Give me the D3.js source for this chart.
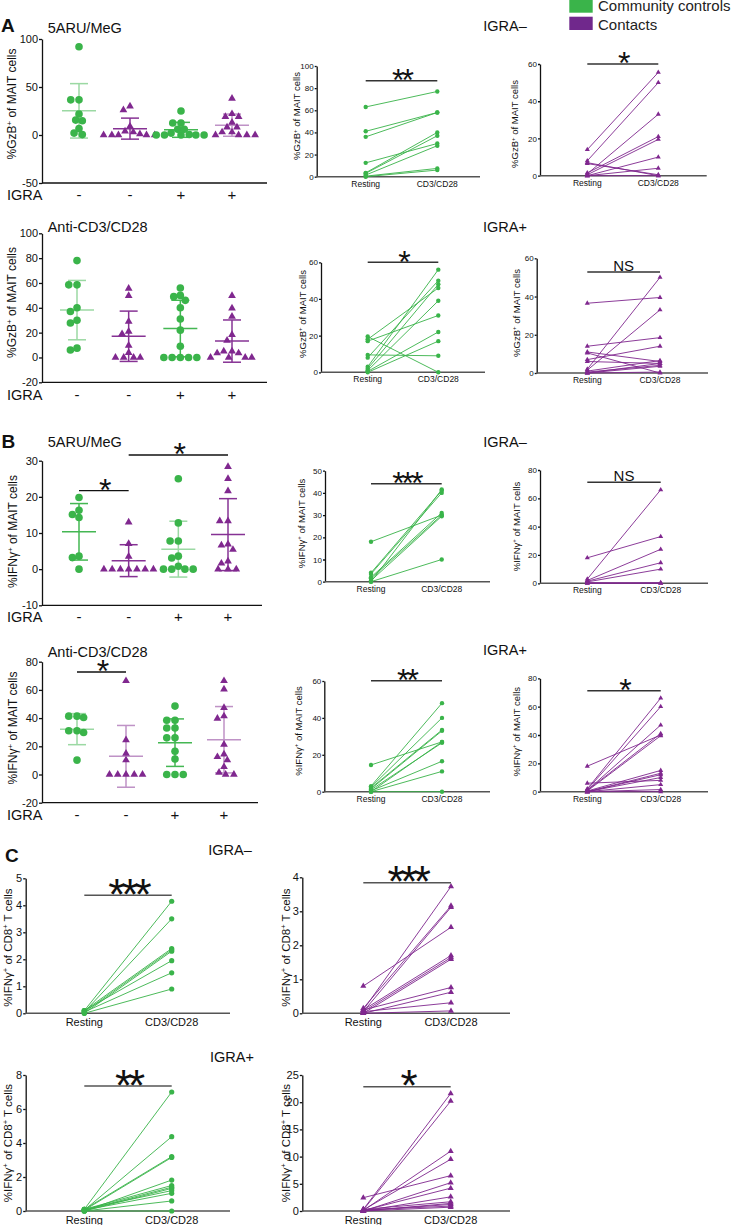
<!DOCTYPE html>
<html><head><meta charset="utf-8">
<script src="https://cdn.jsdelivr.net/npm/d3@7"></script>
<style>body{margin:0;background:#fff} svg{display:block}</style>
</head><body><svg id="c" width="737" height="1225"></svg>
<script>
const FONT = '"Liberation Sans", Arial, Helvetica, sans-serif';
const GREEN = "#3ab44a", PURPLE = "#80288f";

// ---------- data ----------
const igraLabels = ["-", "-", "+", "+"];
const groupSeries = ["controls", "contacts", "controls", "contacts"];
const pairCategories = ["Resting", "CD3/CD28"];
const legendLabels = ["Community controls", "Contacts"];

// scatter panels (A/B left column): 4 groups each
const gzbMeg = [[92, 36.6, 36.6, 21.8, 15.5, 14.8, 6.7, 2, 0.4],
                [30, 26, 9, 4, 3, 1, 0, 0, 0, 0, 0],
                [25, 12.5, 12.5, 6, 6, 2, 0.5, 0, 0, 0, 0, 0],
                [38, 22, 19, 19, 13, 8, 8, 3, 3, 0, 0, 0, 0]];
const gzbCd3 = [[78, 58.5, 58.5, 40, 37, 30, 27.7, 7.5, 6],
                [55.6, 49.7, 29, 21, 19, 9.7, 3.8, 0, 0, 0, 0],
                [56, 50, 49, 46, 40, 31, 22, 9, 0, 0, 0, 0, 0],
                [49.7, 39.7, 33, 18.3, 13.7, 5, 5, 3.5, 3.5, 0, 0, 0, 0]];
const ifnMeg = [[19.8, 16.3, 15.1, 14.3, 3.6, 3.2, 0],
                [13, 7, 3.5, 0, 0, 0, 0, 0, 0, 0],
                [25, 12.8, 7.8, 7.8, 3.6, 3.1, 0.8, 0, 0, 0, 0],
                [28.3, 25, 21.6, 13.3, 13.3, 6.9, 6.6, 5.4, 2.2, 1.6, 0, 0, 0]];
const ifnCd3 = [[41.4, 40.4, 41.4, 31, 29.8, 31, 10.2],
                [66.4, 24.4, 14.9, 10.2, 0, 0, 0, 0, 0],
                [48.5, 38.5, 38.5, 33, 33, 26, 26, 16.5, 11, 0, 0, 0],
                [66.4, 60.5, 47.3, 41.4, 39.7, 21.3, 14.4, 12.5, 10.2, 5.4, 1.4, 0, 0]];

// paired panels: [resting, CD3/CD28]
const gzbNegControls = [[63, 77], [41, 58], [36, 58], [12.5, 30], [3.5, 40], [3, 37], [1.5, 28], [0.5, 7.5], [0, 6]];
const gzbNegContacts = [[14, 55.5], [8, 50], [7, 0], [6.5, 0.5], [1, 33], [1.5, 21], [0.5, 19.5], [0, 10], [0, 4], [0, 0]];
const gzbPosControls = [[19.5, 0], [18, 46], [17, 31], [9.5, 9], [8, 50], [3, 56], [2, 48], [1, 39], [0.5, 22], [0, 17]];
const gzbPosContacts = [[36.5, 39.5], [14, 18.5], [11, 6], [10.5, 0], [7, 14], [6, 5], [2, 50], [1.5, 33], [1, 6.5], [0.5, 4], [0, 3.5], [0, 5], [0, 0.5]];
const ifnNegControls = [[18, 30], [4, 41], [3.5, 40], [2, 31], [1.5, 30], [0.5, 29.5], [0, 10], [0, 41.5]];
const ifnNegContacts = [[18, 33], [3, 66], [2, 24], [1.5, 14.5], [1, 10], [0.5, 0], [0, 0.5], [0, 0]];
const ifnPosControls = [[14.5, 27], [3, 48], [2.5, 40], [2, 33.5], [1.5, 33], [1, 26.5], [0.5, 16.5], [0, 11], [0, 0], [0, 27]];
const ifnPosContacts = [[18, 40], [6, 8], [2, 66], [1.5, 60], [1, 47], [1, 41], [0.5, 39.5], [0.5, 15], [0, 13], [0, 12], [0, 10], [0, 5], [0, 1.5], [0, 0]];
const cd8NegControls = [[0.1, 4.15], [0.05, 3.5], [0.1, 2.4], [0.05, 2.35], [0, 2.3], [0.1, 1.95], [0.05, 1.5], [0, 0.9]];
const cd8NegContacts = [[0.8, 2.53], [0.1, 3.73], [0.15, 3.16], [0.05, 3.12], [0.1, 1.7], [0.05, 1.64], [0, 1.59], [0.1, 0.76], [0, 0.62], [0.05, 0.31], [0, 0.07]];
const cd8PosControls = [[0.1, 7], [0.05, 4.37], [0.1, 3.2], [0.05, 3.15], [0, 1.82], [0.1, 1.5], [0.05, 1.4], [0, 1.33], [0.1, 1.2], [0.05, 1.04], [0, 0.59], [0, 0]];
const cd8PosContacts = [[0.3, 21.6], [0.2, 20.2], [0.1, 11], [0.2, 9.5], [2.45, 6.5], [0, 5.2], [0.1, 4.2], [0, 2.6], [0.3, 1.7], [0, 1.4], [0.1, 1.2], [0.2, 0.9], [0, 0.7]];

const GZB = [["%GzB", 0], ["+", 1], [" of MAIT cells", 0]];
const IFN_MAIT = [["%IFNγ", 0], ["+", 1], [" of MAIT cells", 0]];
const IFN_CD8 = [["%IFNγ", 0], ["+", 1], [" of CD8", 0], ["+", 1], [" T cells", 0]];

// ---------- drawing ----------
const svg = d3.select("#c").attr("font-family", FONT);

function rotLabel(x, y, parts, fs) {
  const t = svg.append("text")
    .attr("transform", `translate(${x + 0.35 * fs},${y}) rotate(-90)`)
    .attr("text-anchor", "middle").attr("font-size", fs).attr("fill", "#111");
  let shifted = false;
  parts.forEach(([s, sup]) => {
    const ts = t.append("tspan").text(s);
    if (sup) { ts.attr("font-size", fs * 0.65).attr("dy", -fs * 0.38); shifted = true; }
    else if (shifted) { ts.attr("dy", fs * 0.38); shifted = false; }
  });
}
function txt(x, y, s, fs, opts = {}) {
  return svg.append("text").attr("x", x).attr("y", y).text(s)
    .attr("font-size", fs).attr("fill", "#111")
    .attr("text-anchor", opts.anchor || "start")
    .attr("font-weight", opts.bold ? "bold" : null);
}
// significance label above a bracket bar
function star(x, barY, s, big) {
  if (s === "NS") { txt(x, barY - 1.2, s, 15, { anchor: "middle" }); return; }
  const fs = big ? 44 : 32;
  txt(x, barY + (big ? 14.5 : 10.4), s, fs, { anchor: "middle" })
    .attr("letter-spacing", big ? -4 : -3);
}
function swarm(vals, y, cx, d) {
  const pts = vals.map(v => ({ v, py: y(v) })).sort((a, b) => a.py - b.py);
  const placed = [];
  const step = d / 4;
  pts.forEach(p => {
    for (let k = 0; k < 200; k++) {
      const off = (k % 2 === 0 ? 1 : -1) * Math.ceil(k / 2) * step;
      const px = cx + off;
      if (placed.every(q => (q.px - px) ** 2 + (q.py - p.py) ** 2 >= d * d)) { p.px = px; break; }
    }
    placed.push(p);
  });
  return pts;
}
function styleAxis(a, fs) {
  a.attr("font-family", FONT).attr("font-size", fs);
  a.selectAll("path,line").attr("stroke", "#111").attr("stroke-width", 1.3);
  a.selectAll("text").attr("fill", "#111");
}

function drawScatter(p) {
  const y = d3.scaleLinear().domain(p.domain).range([p.yBot, p.yTop]);
  const x = d3.scalePoint().domain(d3.range(4)).range(p.gx);
  svg.append("g").attr("transform", `translate(${p.axisX},0)`)
    .call(d3.axisLeft(y).tickValues(p.ticks).tickSize(3).tickPadding(1).tickSizeOuter(0).tickFormat(d => String(d)))
    .call(a => styleAxis(a, 11));
  svg.append("line").attr("x1", p.axisX).attr("x2", p.xEnd).attr("y1", p.yBot).attr("y2", p.yBot)
    .attr("stroke", "#111").attr("stroke-width", 1.3);
  txt(p.axisX + 5.7, p.titleY, p.title, 14.5);
  rotLabel(p.ylx, p.yly, p.ylabel, 12);
  if (p.letter) txt(p.letterX, p.letterY, p.letter, 19, { bold: true });
  p.data.forEach((vals, i) => {
    const col = groupSeries[i] === "controls" ? GREEN : PURPLE;
    const pts = swarm(vals, y, x(i), 6.6);
    const g = svg.append("g");
    if (groupSeries[i] === "controls") {
      g.selectAll("circle").data(pts).join("circle").attr("cx", d => d.px).attr("cy", d => d.py).attr("r", 3.8).attr("fill", col);
    } else {
      g.selectAll("path").data(pts).join("path").attr("d", d3.symbol(d3.symbolTriangle, 26)())
        .attr("transform", d => `translate(${d.px},${d.py})`).attr("fill", col);
    }
    const m = d3.mean(vals), sd = d3.deviation(vals);
    const eb = svg.append("g").attr("stroke", col).attr("stroke-width", 1.5).attr("opacity", p.light[i] ? 0.5 : 0.95);
    const cx = x(i);
    eb.append("line").attr("x1", cx).attr("x2", cx).attr("y1", y(m - sd)).attr("y2", y(m + sd));
    eb.append("line").attr("x1", cx - 9).attr("x2", cx + 9).attr("y1", y(m - sd)).attr("y2", y(m - sd));
    eb.append("line").attr("x1", cx - 9).attr("x2", cx + 9).attr("y1", y(m + sd)).attr("y2", y(m + sd));
    eb.append("line").attr("x1", cx - 17).attr("x2", cx + 17).attr("y1", y(m)).attr("y2", y(m));
    txt(cx, p.igraY, igraLabels[i], 15, { anchor: "middle" });
  });
  txt(7, p.igraY, "IGRA", 14.5);
  (p.sig || []).forEach(s => {
    svg.append("line").attr("x1", x(s.a)).attr("x2", x(s.b)).attr("y1", s.y).attr("y2", s.y)
      .attr("stroke", "#111").attr("stroke-width", 1.3);
    star((x(s.a) + x(s.b)) / 2, s.y, "*", false);
  });
}

function drawPaired(p) {
  const small = !p.big;
  const y = d3.scaleLinear().domain([0, p.max]).range([p.y0, p.yMax]);
  const x = d3.scalePoint().domain(pairCategories).range([p.xR, p.xC]);
  const col = p.series === "controls" ? GREEN : PURPLE;
  svg.append("g").attr("transform", `translate(${p.axisX},0)`)
    .call(d3.axisLeft(y).tickValues(p.ticks).tickSize(small ? 2 : 2.5).tickPadding(1).tickSizeOuter(0).tickFormat(d => String(d)))
    .call(a => styleAxis(a, small ? 8 : 11));
  svg.append("line").attr("x1", p.axisX).attr("x2", p.xEnd).attr("y1", p.y0).attr("y2", p.y0)
    .attr("stroke", "#555").attr("stroke-width", 1.5);
  pairCategories.forEach(c => txt(x(c), p.y0 + (small ? 9.8 : 12.8), c, small ? 8.5 : 11, { anchor: "middle" }));
  const g = svg.append("g");
  g.selectAll("line").data(p.data).join("line")
    .attr("x1", x("Resting")).attr("x2", x("CD3/CD28"))
    .attr("y1", d => y(d[0])).attr("y2", d => y(d[1]))
    .attr("stroke", col).attr("stroke-width", 1).attr("opacity", 0.9);
  const ends = [];
  p.data.forEach(d => { ends.push([x("Resting"), y(d[0])]); ends.push([x("CD3/CD28"), y(d[1])]); });
  if (p.series === "controls") {
    g.selectAll("circle").data(ends).join("circle").attr("cx", d => d[0]).attr("cy", d => d[1])
      .attr("r", small ? 2.2 : 2.6).attr("fill", col);
  } else {
    g.selectAll("path").data(ends).join("path").attr("d", d3.symbol(d3.symbolTriangle, small ? 11 : 16)())
      .attr("transform", d => `translate(${d[0]},${d[1]})`).attr("fill", col);
  }
  svg.append("line").attr("x1", p.xR).attr("x2", p.xC).attr("y1", p.barY).attr("y2", p.barY)
    .attr("stroke", small ? "#333" : "#555").attr("stroke-width", 1.5);
  star((p.xR + p.xC) / 2, p.barY, p.sig, !small);
  rotLabel(p.ylx, p.yly, p.ylabel, small ? 9.5 : 11.5);
}

// ---------- layout ----------
drawScatter({ data: gzbMeg, title: "5ARU/MeG", letter: "A", letterX: 1, letterY: 32, titleY: 33,
  axisX: 42, yTop: 39, yBot: 183, domain: [-50, 100], ticks: [-50, 0, 50, 100], gx: [79, 232], xEnd: 267,
  igraY: 200, ylx: 12, yly: 104, ylabel: GZB, light: [1, 0, 0, 1] });
drawScatter({ data: gzbCd3, title: "Anti-CD3/CD28", titleY: 232,
  axisX: 42, yTop: 233.3, yBot: 382.3, domain: [-20, 100], ticks: [-20, 0, 20, 40, 60, 80, 100], gx: [77, 232], xEnd: 267,
  igraY: 399.5, ylx: 12, yly: 302.5, ylabel: GZB, light: [1, 0, 0, 0] });
drawScatter({ data: ifnMeg, title: "5ARU/MeG", letter: "B", letterX: 1.5, letterY: 448, titleY: 447,
  axisX: 42, yTop: 460.7, yBot: 605.3, domain: [-10, 30], ticks: [-10, 0, 10, 20, 30], gx: [79, 228], xEnd: 262,
  igraY: 622, ylx: 13, yly: 531.5, ylabel: IFN_MAIT, light: [0, 0, 1, 0],
  sig: [{ a: 0, b: 1, y: 490.7 }, { a: 1, b: 3, y: 455 }] });
drawScatter({ data: ifnCd3, title: "Anti-CD3/CD28", titleY: 656.7,
  axisX: 42, yTop: 661.7, yBot: 802.7, domain: [-20, 80], ticks: [-20, 0, 20, 40, 60, 80], gx: [77, 224], xEnd: 258,
  igraY: 820, ylx: 13, yly: 728, ylabel: IFN_MAIT, light: [1, 1, 0, 1],
  sig: [{ a: 0, b: 1, y: 672 }] });

const pairedPanels = [
  { data: gzbNegControls, series: "controls", axisX: 316.7, y0: 176.7, yMax: 66, max: 100, ticks: [0, 20, 40, 60, 80, 100], xR: 365.7, xC: 437.3, xEnd: 480, barY: 80.7, sig: "**", ylx: 297, yly: 116, ylabel: GZB },
  { data: gzbNegContacts, series: "contacts", axisX: 540, y0: 175.7, yMax: 64, max: 60, ticks: [0, 20, 40, 60], xR: 587.3, xC: 658.3, xEnd: 706.7, barY: 64, sig: "*", ylx: 515, yly: 124, ylabel: GZB },
  { data: gzbPosControls, series: "controls", axisX: 321, y0: 372.3, yMax: 262.3, max: 60, ticks: [0, 20, 40, 60], xR: 367.7, xC: 438.3, xEnd: 485, barY: 262.3, sig: "*", ylx: 302.3, yly: 314, ylabel: GZB },
  { data: gzbPosContacts, series: "contacts", axisX: 536.7, y0: 373, yMax: 258.3, max: 60, ticks: [0, 20, 40, 60], xR: 587.3, xC: 660, xEnd: 708, barY: 272, sig: "NS", ylx: 516.7, yly: 313, ylabel: GZB },
  { data: ifnNegControls, series: "controls", axisX: 325, y0: 581.7, yMax: 470.7, max: 50, ticks: [0, 10, 20, 30, 40, 50], xR: 371, xC: 441.7, xEnd: 490, barY: 483.7, sig: "***", ylx: 301.7, yly: 523.5, ylabel: IFN_MAIT },
  { data: ifnNegContacts, series: "contacts", axisX: 540, y0: 583.3, yMax: 470, max: 80, ticks: [0, 20, 40, 60, 80], xR: 587.3, xC: 660.7, xEnd: 708, barY: 482.3, sig: "NS", ylx: 516.7, yly: 526.5, ylabel: IFN_MAIT },
  { data: ifnPosControls, series: "controls", axisX: 324.3, y0: 791.7, yMax: 681, max: 60, ticks: [0, 20, 40, 60], xR: 371, xC: 442, xEnd: 490, barY: 680.7, sig: "**", ylx: 298.3, yly: 731, ylabel: IFN_MAIT },
  { data: ifnPosContacts, series: "contacts", axisX: 540, y0: 791.7, yMax: 678.3, max: 80, ticks: [0, 20, 40, 60, 80], xR: 587.3, xC: 660.7, xEnd: 708, barY: 690.7, sig: "*", ylx: 516.7, yly: 731.7, ylabel: IFN_MAIT },
  { data: cd8NegControls, series: "controls", big: true, axisX: 25.7, y0: 1013.3, yMax: 878.3, max: 5, ticks: [0, 1, 2, 3, 4, 5], xR: 84.3, xC: 171.7, xEnd: 230, barY: 895.3, sig: "***", ylx: 8.3, yly: 947.5, ylabel: IFN_CD8 },
  { data: cd8NegContacts, series: "contacts", big: true, axisX: 302.3, y0: 1013.3, yMax: 877.3, max: 4, ticks: [0, 1, 2, 3, 4], xR: 363.3, xC: 451, xEnd: 510, barY: 882.7, sig: "***", ylx: 286, yly: 947.5, ylabel: IFN_CD8 },
  { data: cd8PosControls, series: "controls", big: true, axisX: 25.7, y0: 1211, yMax: 1075, max: 8, ticks: [0, 2, 4, 6, 8], xR: 84.3, xC: 171.7, xEnd: 230, barY: 1086, sig: "**", ylx: 8.3, yly: 1143, ylabel: IFN_CD8 },
  { data: cd8PosContacts, series: "contacts", big: true, axisX: 302.3, y0: 1211, yMax: 1075, max: 25, ticks: [0, 5, 10, 15, 20, 25], xR: 363.3, xC: 450.7, xEnd: 510, barY: 1086.7, sig: "*", ylx: 286, yly: 1143, ylabel: IFN_CD8 }
];
pairedPanels.forEach(drawPaired);

// row titles
txt(505, 31, "IGRA–", 14.5, { anchor: "middle" });
txt(505, 231.7, "IGRA+", 14.5, { anchor: "middle" });
txt(505, 446.7, "IGRA–", 14.5, { anchor: "middle" });
txt(505, 655, "IGRA+", 14.5, { anchor: "middle" });
txt(230, 855, "IGRA–", 14.5, { anchor: "middle" });
txt(232, 1061.7, "IGRA+", 14.5, { anchor: "middle" });
txt(5, 862, "C", 19, { bold: true });

// legend
const legend = svg.append("g");
legend.selectAll("rect").data(legendLabels).join("rect")
  .attr("x", 569.3).attr("y", (d, i) => -0.6 + i * 17.3).attr("width", 23.4).attr("height", 13.3)
  .attr("fill", (d, i) => i === 0 ? GREEN : "#70288c");
legend.selectAll("text").data(legendLabels).join("text")
  .attr("x", 598).attr("y", (d, i) => 11 + i * 18.5).text(d => d)
  .attr("font-size", 15).attr("fill", "#222");
</script></body></html>
